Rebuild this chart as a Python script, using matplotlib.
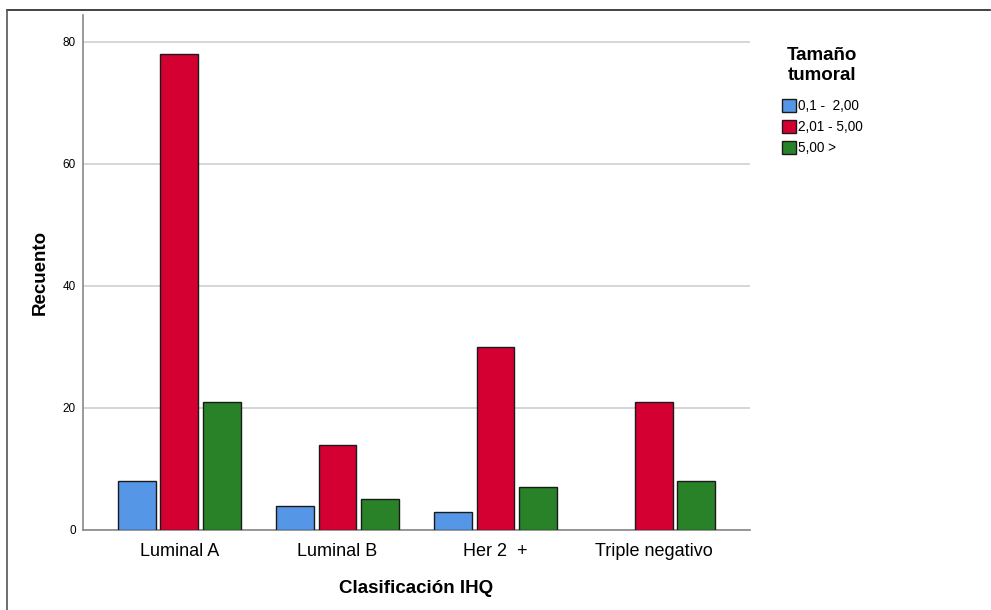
import numpy as np
import matplotlib
matplotlib.use("Agg")
import matplotlib.pyplot as plt
from matplotlib.lines import Line2D

categories = ['Luminal A', 'Luminal B', 'Her 2  +', 'Triple negativo']
series_labels = ['0,1 -  2,00', '2,01 - 5,00', '5,00 >']
small = [8, 4, 3, 0]
medium = [78, 14, 30, 21]
large = [21, 5, 7, 8]
colors = ['#5596E6', '#D50032', '#2A8228']

plt.rcParams['font.family'] = ['Liberation Sans', 'DejaVu Sans']

fig = plt.figure(figsize=(9.91, 6.10), dpi=100)
ax = fig.add_axes([83 / 991, 1 - 530 / 610, (750 - 83) / 991, (530 - 15) / 610])

x = np.arange(len(categories))
width = 0.24
step = 0.27
for i, (vals, col, lab) in enumerate(zip([small, medium, large], colors, series_labels)):
    # zero counts draw nothing (no outline)
    lw = [1.0 if v > 0 else 0 for v in vals]
    ax.bar(x + (i - 1) * step, vals, width=width, color=col,
           edgecolor='#1a1a1a', linewidth=lw, label=lab, zorder=3)

ax.set_xlim(-0.61, 3.61)
ax.set_ylim(0, 84.4)
ax.set_yticks([0, 20, 40, 60, 80])
ax.set_xticks(x)
ax.set_xticklabels(categories, fontsize=13)
ax.tick_params(axis='y', labelsize=8.5, length=0, pad=5)
ax.tick_params(axis='x', length=0, pad=9)
ax.grid(axis='y', color='#cfcfcf', linewidth=1.2, zorder=0)
for s in ['top', 'right']:
    ax.spines[s].set_visible(False)
for s in ['left', 'bottom']:
    ax.spines[s].set_color('#888888')
    ax.spines[s].set_linewidth(1.2)

ax.set_xlabel('Clasificación IHQ', fontsize=13.5, fontweight='bold', labelpad=15)
ax.set_ylabel('Recuento', fontsize=13.5, fontweight='bold', labelpad=10)

leg = ax.legend(loc='upper left', bbox_to_anchor=(1.04, 0.948), frameon=False,
                title='Tamaño\ntumoral', fontsize=9.8, handlelength=1.0,
                handleheight=1.1, handletextpad=0.15, labelspacing=0.5,
                borderaxespad=0)
leg.get_title().set_fontweight('bold')
leg.get_title().set_fontsize(13.5)
leg.get_title().set_multialignment('center')
leg._legend_box.align = 'center'
leg._legend_box.sep = 11

# outer frame: top and left edges only
fig.add_artist(Line2D([7 / 991, 990 / 991], [1 - 10 / 610, 1 - 10 / 610],
                      transform=fig.transFigure, color='#222222', linewidth=1.2))
fig.add_artist(Line2D([7 / 991, 7 / 991], [0, 1 - 10 / 610],
                      transform=fig.transFigure, color='#555555', linewidth=1.2))

fig.savefig('out.png', dpi=100)
